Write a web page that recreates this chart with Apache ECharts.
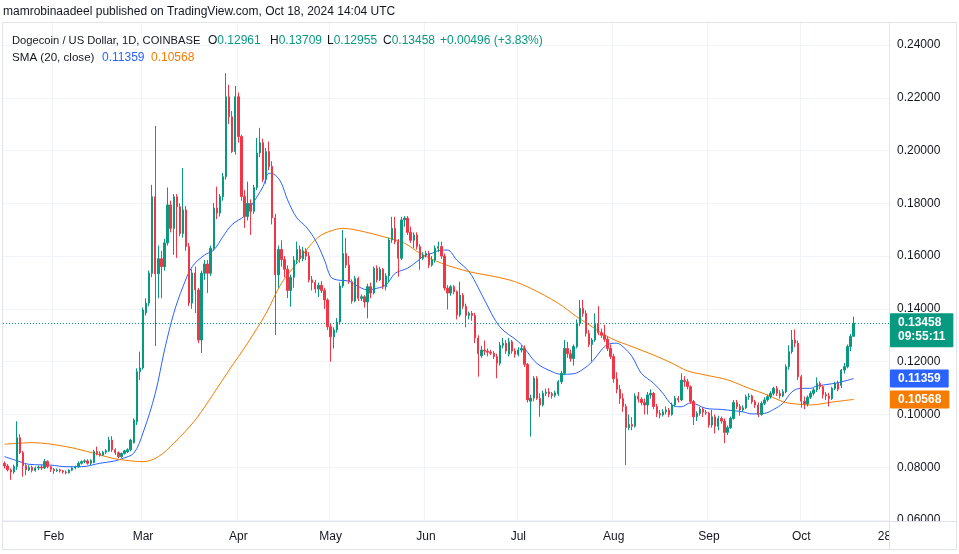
<!DOCTYPE html>
<html><head><meta charset="utf-8">
<script src="https://cdn.jsdelivr.net/npm/echarts@6/dist/echarts.min.js"></script>
<style>html,body{margin:0;padding:0;background:#fff}#c{width:959px;height:554px}</style>
</head><body><div id="c"></div>
<script>
// ---- data ----
const startDate = '2024-01-16';
const axisEndDate = '2024-10-29';
const monthNames = ['Jan','Feb','Mar','Apr','May','Jun','Jul','Aug','Sep','Oct','Nov','Dec'];
const yTickStep = 0.02;
const yMin = 0.06;
const yMax = 0.24871;
// daily candles from 2024-01-16: [open, close, low, high]
const ohlc = [
[0.0815,0.0805,0.0795,0.0822],[0.0805,0.0790,0.0784,0.0812],[0.0790,0.0782,0.0752,0.0796],[0.0782,0.0803,0.0775,0.0810],
[0.0803,0.0912,0.0790,0.0974],[0.0912,0.0855,0.0850,0.0925],[0.0855,0.0806,0.0764,0.0862],[0.0806,0.0790,0.0770,0.0812],
[0.0790,0.0800,0.0785,0.0808],[0.0800,0.0788,0.0780,0.0806],[0.0788,0.0797,0.0783,0.0802],[0.0797,0.0801,0.0789,0.0806],
[0.0801,0.0797,0.0790,0.0808],[0.0797,0.0822,0.0794,0.0831],[0.0822,0.0802,0.0796,0.0826],[0.0802,0.0792,0.0782,0.0805],
// Feb
[0.0792,0.0787,0.0775,0.0797],[0.0787,0.0790,0.0782,0.0795],[0.0790,0.0786,0.0780,0.0794],[0.0786,0.0782,0.0776,0.0790],
[0.0782,0.0779,0.0773,0.0788],[0.0779,0.0789,0.0776,0.0792],[0.0789,0.0797,0.0785,0.0800],[0.0797,0.0801,0.0792,0.0806],
[0.0801,0.0815,0.0798,0.0822],[0.0815,0.0821,0.0810,0.0826],[0.0821,0.0824,0.0815,0.0830],[0.0824,0.0815,0.0810,0.0830],
[0.0815,0.0825,0.0808,0.0830],[0.0818,0.0860,0.0815,0.0866],[0.0860,0.0852,0.0845,0.0878],[0.0852,0.0846,0.0840,0.0860],
[0.0846,0.0857,0.0842,0.0862],[0.0857,0.0862,0.0850,0.0868],[0.0862,0.0903,0.0858,0.0915],[0.0903,0.0866,0.0858,0.0918],
[0.0866,0.0855,0.0846,0.0872],[0.0855,0.0840,0.0834,0.0860],[0.0840,0.0852,0.0836,0.0856],[0.0852,0.0862,0.0848,0.0866],
[0.0858,0.0866,0.0854,0.0872],[0.0866,0.0903,0.0860,0.0908],[0.0893,0.0979,0.0890,0.0985],[0.0972,0.1162,0.0960,0.1175],
[0.1162,0.1176,0.1130,0.1238],
// Mar
[0.1176,0.1396,0.1170,0.1405],[0.1385,0.1422,0.1375,0.1440],[0.1422,0.1536,0.1410,0.1545],[0.1535,0.1825,0.1520,0.1870],
[0.1825,0.1533,0.1259,0.2093],[0.1533,0.1590,0.1440,0.1640],[0.1590,0.1560,0.1440,0.1620],[0.1560,0.1650,0.1545,0.1665],
[0.1650,0.1794,0.1640,0.1860],[0.1794,0.1705,0.1690,0.1810],[0.1705,0.1825,0.1605,0.1835],[0.1825,0.1787,0.1593,0.1835],
[0.1787,0.1686,0.1675,0.1800],[0.1686,0.1775,0.1670,0.1934],[0.1775,0.1636,0.1620,0.1790],[0.1636,0.1422,0.1410,0.1650],
[0.1422,0.1536,0.1400,0.1550],[0.1536,0.1472,0.1384,0.1560],[0.1472,0.1282,0.1270,0.1480],[0.1282,0.1535,0.1233,0.1545],
[0.1535,0.1570,0.1510,0.1585],[0.1570,0.1535,0.1460,0.1585],[0.1535,0.1630,0.1525,0.1640],[0.1630,0.1782,0.1620,0.1801],
[0.1782,0.1763,0.1740,0.1863],[0.1763,0.1825,0.1750,0.1835],[0.1825,0.1901,0.1810,0.1915],[0.1901,0.2204,0.1890,0.2293],
[0.2204,0.2128,0.2100,0.2249],[0.2128,0.1996,0.1991,0.2150],[0.1996,0.2204,0.1985,0.2245],
// Apr
[0.2204,0.2053,0.2030,0.2220],[0.2053,0.1826,0.1810,0.2060],[0.1826,0.1750,0.1707,0.1850],[0.1750,0.1800,0.1735,0.1882],
[0.1800,0.1770,0.1680,0.1815],[0.1770,0.1860,0.1760,0.1870],[0.1860,0.1991,0.1850,0.2048],[0.1991,0.2030,0.1975,0.2086],
[0.2030,0.1890,0.1880,0.2045],[0.1890,0.1996,0.1875,0.2010],[0.1996,0.1940,0.1925,0.2034],[0.1940,0.1745,0.1720,0.1960],
[0.1745,0.1529,0.1301,0.1760],[0.1529,0.1625,0.1480,0.1640],[0.1625,0.1587,0.1560,0.1660],[0.1587,0.1550,0.1520,0.1600],
[0.1550,0.1470,0.1441,0.1565],[0.1470,0.1520,0.1408,0.1530],[0.1520,0.1585,0.1480,0.1600],[0.1585,0.1625,0.1570,0.1655],
[0.1625,0.1590,0.1575,0.1640],[0.1590,0.1620,0.1580,0.1635],[0.1620,0.1600,0.1585,0.1630],[0.1600,0.1510,0.1500,0.1615],
[0.1510,0.1500,0.1470,0.1525],[0.1500,0.1475,0.1460,0.1510],[0.1475,0.1490,0.1445,0.1500],[0.1490,0.1470,0.1460,0.1505],
[0.1470,0.1434,0.1400,0.1480],[0.1434,0.1332,0.1320,0.1440],
// May
[0.1332,0.1294,0.1200,0.1345],[0.1294,0.1320,0.1250,0.1330],[0.1320,0.1350,0.1310,0.1365],[0.1350,0.1487,0.1340,0.1500],
[0.1487,0.1610,0.1480,0.1699],[0.1610,0.1566,0.1555,0.1669],[0.1566,0.1503,0.1495,0.1600],[0.1503,0.1430,0.1420,0.1512],
[0.1430,0.1515,0.1425,0.1525],[0.1515,0.1440,0.1430,0.1522],[0.1440,0.1446,0.1430,0.1455],[0.1446,0.1426,0.1405,0.1452],
[0.1426,0.1484,0.1364,0.1495],[0.1484,0.1460,0.1440,0.1500],[0.1460,0.1554,0.1455,0.1560],[0.1554,0.1510,0.1500,0.1565],
[0.1510,0.1550,0.1505,0.1560],[0.1550,0.1484,0.1475,0.1555],[0.1484,0.1525,0.1470,0.1535],[0.1525,0.1661,0.1500,0.1670],
[0.1661,0.1705,0.1650,0.1749],[0.1705,0.1655,0.1645,0.1749],[0.1655,0.1592,0.1522,0.1665],[0.1592,0.1737,0.1585,0.1749],
[0.1737,0.1744,0.1711,0.1752],[0.1744,0.1690,0.1680,0.1752],[0.1690,0.1660,0.1650,0.1712],[0.1660,0.1680,0.1630,0.1690],
[0.1680,0.1636,0.1625,0.1690],[0.1636,0.1592,0.1548,0.1645],[0.1592,0.1604,0.1585,0.1615],
// Jun
[0.1604,0.1610,0.1595,0.1620],[0.1610,0.1566,0.1555,0.1620],[0.1566,0.1585,0.1560,0.1600],[0.1585,0.1630,0.1575,0.1640],
[0.1630,0.1636,0.1615,0.1655],[0.1636,0.1600,0.1590,0.1655],[0.1600,0.1479,0.1470,0.1610],[0.1479,0.1460,0.1398,0.1490],
[0.1460,0.1484,0.1450,0.1490],[0.1484,0.1465,0.1455,0.1490],[0.1465,0.1377,0.1360,0.1470],[0.1377,0.1452,0.1370,0.1503],
[0.1452,0.1410,0.1400,0.1460],[0.1410,0.1375,0.1330,0.1420],[0.1375,0.1383,0.1360,0.1390],[0.1383,0.1375,0.1355,0.1392],
[0.1375,0.1290,0.1270,0.1385],[0.1290,0.1230,0.1143,0.1300],[0.1222,0.1244,0.1215,0.1260],[0.1244,0.1240,0.1225,0.1280],
[0.1240,0.1236,0.1220,0.1250],[0.1236,0.1232,0.1225,0.1245],[0.1232,0.1219,0.1210,0.1240],[0.1219,0.1194,0.1137,0.1230],
[0.1194,0.1262,0.1185,0.1275],[0.1262,0.1270,0.1250,0.1290],[0.1270,0.1240,0.1230,0.1282],[0.1228,0.1275,0.1220,0.1290],
[0.1275,0.1240,0.1230,0.1282],[0.1240,0.1228,0.1215,0.1250],
// Jul
[0.1228,0.1244,0.1220,0.1255],[0.1244,0.1250,0.1235,0.1262],[0.1250,0.1190,0.1180,0.1262],[0.1190,0.1055,0.1045,0.1195],
[0.1050,0.1062,0.0916,0.1075],[0.1062,0.1137,0.1050,0.1145],[0.1137,0.1061,0.1055,0.1145],[0.1061,0.1036,0.0991,0.1080],
[0.1036,0.1080,0.1030,0.1090],[0.1080,0.1085,0.1070,0.1098],[0.1085,0.1078,0.1065,0.1100],[0.1078,0.1072,0.1060,0.1085],
[0.1072,0.1082,0.1065,0.1090],[0.1078,0.1124,0.1070,0.1130],[0.1124,0.1156,0.1115,0.1165],[0.1156,0.1250,0.1150,0.1282],
[0.1250,0.1230,0.1215,0.1275],[0.1230,0.1212,0.1200,0.1245],[0.1212,0.1257,0.1185,0.1265],[0.1257,0.1345,0.1250,0.1360],
[0.1345,0.1402,0.1335,0.1434],[0.1402,0.1383,0.1370,0.1434],[0.1383,0.1307,0.1295,0.1395],[0.1307,0.1265,0.1255,0.1320],
[0.1265,0.1282,0.1200,0.1290],[0.1282,0.1345,0.1275,0.1383],[0.1345,0.1310,0.1300,0.1410],[0.1310,0.1300,0.1290,0.1325],
[0.1300,0.1285,0.1275,0.1340],[0.1285,0.1250,0.1240,0.1295],[0.1250,0.1220,0.1210,0.1265],
// Aug
[0.1220,0.1135,0.1120,0.1230],[0.1135,0.1095,0.1080,0.1160],[0.1095,0.1060,0.1040,0.1112],[0.1060,0.1030,0.1010,0.1080],
[0.1030,0.0950,0.0808,0.1040],[0.0950,0.0962,0.0940,0.1000],[0.0962,0.0955,0.0940,0.0990],[0.0955,0.1070,0.0950,0.1080],
[0.1070,0.1058,0.1045,0.1085],[0.1058,0.1045,0.1035,0.1065],[0.1045,0.1036,0.1000,0.1060],[0.1036,0.1074,0.1000,0.1085],
[0.1074,0.1080,0.1060,0.1095],[0.1080,0.1030,0.1020,0.1085],[0.1030,0.1004,0.0990,0.1040],[0.1004,0.0998,0.0985,0.1017],
[0.0998,0.1010,0.0992,0.1020],[0.1010,0.1017,0.1000,0.1030],[0.1017,0.1000,0.0990,0.1025],[0.1000,0.1036,0.0995,0.1045],
[0.1036,0.1061,0.1030,0.1070],[0.1061,0.1055,0.1045,0.1070],[0.1055,0.1130,0.1050,0.1156],[0.1130,0.1124,0.1105,0.1145],
[0.1124,0.1105,0.1095,0.1135],[0.1105,0.1049,0.1040,0.1110],[0.1049,0.0991,0.0960,0.1055],[0.0991,0.1004,0.0975,0.1012],
[0.1004,0.1020,0.0995,0.1029],[0.1020,0.1008,0.0990,0.1025],[0.1008,0.1005,0.0998,0.1017],
// Sep
[0.1005,0.0960,0.0950,0.1010],[0.0960,0.0991,0.0950,0.1017],[0.0991,0.0955,0.0928,0.1000],[0.0955,0.0985,0.0940,0.0995],
[0.0985,0.0975,0.0965,0.0992],[0.0975,0.0932,0.0891,0.0985],[0.0932,0.0950,0.0922,0.0958],[0.0950,0.0985,0.0945,0.0992],
[0.0985,0.1045,0.0980,0.1055],[0.1045,0.1030,0.1020,0.1055],[0.1030,0.1017,0.0995,0.1040],[0.1017,0.1025,0.1010,0.1035],
[0.1025,0.1067,0.1020,0.1075],[0.1067,0.1070,0.1055,0.1080],[0.1070,0.1048,0.1040,0.1075],[0.1048,0.1036,0.1025,0.1055],
[0.1036,0.1000,0.0990,0.1045],[0.1000,0.1042,0.0995,0.1050],[0.1042,0.1055,0.1035,0.1065],[0.1055,0.1067,0.1048,0.1075],
[0.1067,0.1080,0.1060,0.1088],[0.1080,0.1099,0.1072,0.1105],[0.1099,0.1080,0.1070,0.1108],[0.1080,0.1070,0.1060,0.1092],
[0.1070,0.1086,0.1065,0.1095],[0.1086,0.1181,0.1080,0.1190],[0.1181,0.1238,0.1170,0.1262],[0.1238,0.1282,0.1230,0.1320],
[0.1282,0.1270,0.1255,0.1322],[0.1270,0.1143,0.1130,0.1280],
// Oct
[0.1143,0.1050,0.1025,0.1150],[0.1050,0.1040,0.1020,0.1068],[0.1040,0.1065,0.1030,0.1072],[0.1065,0.1080,0.1058,0.1088],
[0.1080,0.1093,0.1072,0.1100],[0.1093,0.1118,0.1085,0.1140],[0.1118,0.1105,0.1095,0.1125],[0.1105,0.1075,0.1060,0.1110],
[0.1075,0.1070,0.1055,0.1085],[0.1070,0.1060,0.1030,0.1082],[0.1060,0.1099,0.1055,0.1105],[0.1099,0.1118,0.1092,0.1124],
[0.1118,0.1095,0.1088,0.1128],[0.1110,0.1168,0.1100,0.1172],[0.1168,0.1181,0.1155,0.1195],[0.1181,0.1257,0.1175,0.1265],
[0.1257,0.1296,0.1240,0.1305],[0.12961,0.13458,0.12955,0.13709]
];
// SMA lines at sample dates
const smaFastPoints = [
['2024-01-16',0.0840],['2024-01-21',0.0821],['2024-01-24',0.0811],['2024-01-31',0.0808],['2024-02-05',0.0802],
['2024-02-10',0.0802],['2024-02-16',0.0815],['2024-02-21',0.0824],['2024-02-23',0.0832],['2024-02-27',0.0853],
['2024-03-01',0.0930],['2024-03-05',0.1080],['2024-03-08',0.1244],['2024-03-11',0.1383],['2024-03-14',0.1484],
['2024-03-17',0.1560],['2024-03-21',0.1604],['2024-03-24',0.1623],['2024-03-27',0.1674],['2024-03-30',0.1720],
['2024-04-03',0.1752],['2024-04-05',0.1787],['2024-04-09',0.1863],['2024-04-11',0.1914],['2024-04-13',0.1907],
['2024-04-15',0.1876],['2024-04-17',0.1813],['2024-04-20',0.1745],['2024-04-23',0.1711],['2024-04-26',0.1661],
['2024-04-29',0.1585],['2024-05-01',0.1522],['2024-05-03',0.1510],['2024-05-07',0.1505],['2024-05-09',0.1491],
['2024-05-13',0.1472],['2024-05-16',0.1478],['2024-05-19',0.1491],['2024-05-22',0.1535],['2024-05-26',0.1554],
['2024-05-29',0.1579],['2024-05-31',0.1598],['2024-06-03',0.1611],['2024-06-06',0.1623],['2024-06-08',0.1623],
['2024-06-11',0.1585],['2024-06-15',0.1541],['2024-06-18',0.1480],['2024-06-20',0.1434],['2024-06-25',0.1332],
['2024-07-01',0.1276],['2024-07-03',0.1251],['2024-07-07',0.1194],['2024-07-12',0.1162],['2024-07-15',0.1152],
['2024-07-19',0.1154],['2024-07-22',0.1171],['2024-07-25',0.1200],['2024-07-28',0.1244],['2024-07-30',0.1265],
['2024-08-02',0.1270],['2024-08-04',0.1257],['2024-08-07',0.1219],['2024-08-10',0.1156],['2024-08-14',0.1118],
['2024-08-17',0.1080],['2024-08-20',0.1036],['2024-08-23',0.1029],['2024-08-26',0.1044],['2024-08-31',0.1023],
['2024-09-05',0.1019],['2024-09-09',0.1014],['2024-09-12',0.1010],['2024-09-15',0.1002],['2024-09-19',0.1004],
['2024-09-22',0.1019],['2024-09-25',0.1042],['2024-09-28',0.1086],['2024-10-01',0.1099],['2024-10-04',0.1099],
['2024-10-06',0.1108],['2024-10-12',0.1118],['2024-10-18',0.11359]
];
const smaSlowPoints = [
['2024-01-16',0.0887],['2024-01-25',0.0893],['2024-02-05',0.0878],['2024-02-14',0.0853],['2024-02-20',0.0834],
['2024-02-24',0.0827],['2024-03-01',0.0821],['2024-03-06',0.0840],['2024-03-11',0.0891],['2024-03-18',0.0979],
['2024-03-24',0.1080],['2024-03-29',0.1168],['2024-04-01',0.1219],['2024-04-04',0.1270],['2024-04-10',0.1383],
['2024-04-15',0.1497],['2024-04-20',0.1573],['2024-04-24',0.1636],['2024-04-28',0.1680],['2024-05-03',0.1702],
['2024-05-05',0.1705],['2024-05-12',0.1692],['2024-05-18',0.1674],['2024-05-25',0.1649],['2024-05-30',0.1611],
['2024-06-06',0.1573],['2024-06-11',0.1554],['2024-06-15',0.1541],['2024-06-28',0.1510],['2024-07-05',0.1478],
['2024-07-14',0.1421],['2024-07-20',0.1370],['2024-07-25',0.1332],['2024-07-31',0.1289],['2024-08-07',0.1257],
['2024-08-14',0.1225],['2024-08-20',0.1194],['2024-08-25',0.1165],['2024-08-31',0.1149],['2024-09-07',0.1131],
['2024-09-14',0.1099],['2024-09-20',0.1074],['2024-09-25',0.1048],['2024-09-29',0.1040],['2024-10-04',0.1036],
['2024-10-11',0.1047],['2024-10-18',0.10568]
];
const lastPrice = 0.13458;
const lastCountdown = '09:55:11';
const smaFastLast = 0.11359;
const smaSlowLast = 0.10568;
const headerTitle = 'mamrobinaadeel published on TradingView.com, Oct 18, 2024 14:04 UTC';
const symbolTitle = 'Dogecoin / US Dollar, 1D, COINBASE';
const ohlcLegend = [['O','0.12961'],['H','0.13709'],['L','0.12955'],['C','0.13458']];
const changeText = '+0.00496 (+3.83%)';
const smaTitle = 'SMA (20, close)';

// ---- categories ----
function fmt(d){return d.toISOString().slice(0,10);}
const dates = [];
for (let d = new Date(startDate+'T00:00:00Z'); fmt(d) <= axisEndDate; d.setUTCDate(d.getUTCDate()+1)) dates.push(fmt(d));

const UP='#089981', DOWN='#f23645', BLUE='#2962ff', ORANGE='#f57c00', TXT='#131722';
const FONT='"Liberation Sans", Arial, sans-serif';
const CLEAR='rgba(0,0,0,0)';

const tagLabel = (bg, text, extra) => Object.assign({
  show:true, position:'end', distance:1, formatter:text, backgroundColor:bg, color:'#fff',
  fontFamily:FONT, fontSize:12, fontWeight:'bold', padding:[2,8], lineHeight:14, borderRadius:1
}, extra||{});

// legend text elements
const legendX = [208, 270, 327, 383];
const legendGraphics = ohlcLegend.map((p,i)=>({
  type:'text', z:102, silent:true, x:legendX[i], y:41,
  style:{text:'{d|'+p[0]+'}{g|'+p[1]+'}', verticalAlign:'middle', font:'12px '+FONT,
    rich:{d:{fill:TXT, font:'12px '+FONT}, g:{fill:UP, font:'12px '+FONT}}}
}));

const chart = echarts.init(document.getElementById('c'), null, {renderer:'canvas'});
chart.setOption({
  animation:false,
  backgroundColor:'#fff',
  grid:{left:3, right:70, top:22, bottom:34},
  xAxis:{
    type:'category', data:dates, boundaryGap:true,
    axisLine:{show:false}, axisTick:{show:false},
    axisLabel:{
      interval:(i,v)=> v.endsWith('-01') || v==='2024-10-28',
      formatter:(v)=>{const p=v.split('-'); return p[2]==='01'? monthNames[+p[1]-1] : String(+p[2]);},
      color:TXT, fontFamily:FONT, fontSize:12, margin:11
    },
    splitLine:{show:true, interval:(i,v)=> v.endsWith('-01'), lineStyle:{color:'#f0f3fa', width:1}}
  },
  yAxis:{
    type:'value', position:'right', min:yMin, max:yMax, interval:yTickStep, scale:true,
    axisLine:{show:false}, axisTick:{show:false},
    axisLabel:{formatter:(v)=>v.toFixed(5), color:TXT, fontFamily:FONT, fontSize:12, margin:8, showMaxLabel:false},
    splitLine:{show:true, lineStyle:{color:'#f0f3fa', width:1}}
  },
  series:[
    {
      type:'candlestick', data:ohlc, barWidth:'60%', z:4,
      itemStyle:{color:UP, color0:DOWN, borderColor:UP, borderColor0:DOWN, borderWidth:1}
    },
    {
      type:'line', name:'SMA fast', data:smaFastPoints, smooth:0.35, symbol:'none', z:3,
      lineStyle:{color:BLUE, width:1}, itemStyle:{color:BLUE},
      markLine:{symbol:'none', silent:true, animation:false, precision:5,
        data:[
          {yAxis:lastPrice, lineStyle:{color:UP, type:[1,2], width:1},
           label:tagLabel(UP, lastPrice.toFixed(5)+'\n'+lastCountdown, {offset:[0,7], padding:[3,8]})},
          {yAxis:smaFastLast, lineStyle:{color:CLEAR, width:0}, label:tagLabel(BLUE, smaFastLast.toFixed(5))}
        ]}
    },
    {
      type:'line', name:'SMA slow', data:smaSlowPoints, smooth:0.35, symbol:'none', z:3,
      lineStyle:{color:ORANGE, width:1}, itemStyle:{color:ORANGE},
      markLine:{symbol:'none', silent:true, animation:false, precision:5,
        data:[{yAxis:smaSlowLast, lineStyle:{color:CLEAR, width:0}, label:tagLabel(ORANGE, smaSlowLast.toFixed(5))}]}
    }
  ],
  graphic:[
    {type:'rect', z:100, silent:true, shape:{x:889.5, y:521.5, width:67, height:27}, style:{fill:'#fff'}},
    {type:'line', z:101, silent:true, shape:{x1:2, y1:521.5, x2:957, y2:521.5}, style:{stroke:'#e0e3eb', lineWidth:1}},
    {type:'line', z:101, silent:true, shape:{x1:889.5, y1:22, x2:889.5, y2:549}, style:{stroke:'#e0e3eb', lineWidth:1}},
    {type:'rect', z:101, silent:true, shape:{x:2.5, y:22.5, width:954, height:527}, style:{fill:'none', stroke:'#e0e3eb', lineWidth:1}},
    {type:'text', z:102, silent:true, x:3, y:12, style:{text:headerTitle, verticalAlign:'middle', font:'12px '+FONT, fill:TXT}},
    {type:'text', z:102, silent:true, x:12, y:41, style:{text:symbolTitle, verticalAlign:'middle', font:'11.2px '+FONT, fill:TXT}},
    ...legendGraphics,
    {type:'text', z:102, silent:true, x:440, y:41, style:{text:changeText, verticalAlign:'middle', font:'12px '+FONT, fill:UP}},
    {type:'text', z:102, silent:true, x:12, y:58, style:{text:smaTitle, verticalAlign:'middle', font:'11.6px '+FONT, fill:TXT}},
    {type:'text', z:102, silent:true, x:102, y:58, style:{text:smaFastLast.toFixed(5), verticalAlign:'middle', font:'12px '+FONT, fill:BLUE}},
    {type:'text', z:102, silent:true, x:151, y:58, style:{text:smaSlowLast.toFixed(5), verticalAlign:'middle', font:'12px '+FONT, fill:ORANGE}}
  ]
});
</script>
</body></html>
